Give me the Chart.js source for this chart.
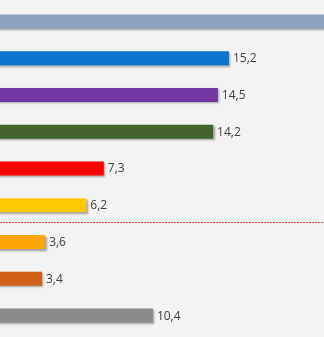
<!DOCTYPE html>
<html>
<head>
<meta charset="utf-8">
<script src="https://cdn.jsdelivr.net/npm/chart.js@4"></script>
<style>
  html, body { margin: 0; padding: 0; background: #f3f3f3; }
  #wrap { width: 324px; height: 337px; }
</style>
</head>
<body>
<div id="wrap"><canvas id="c" width="324" height="337"></canvas></div>
<script>
const categories = ["Total", "A", "B", "C", "D", "E", "F", "G", "H"];
const values = [25, 15.2, 14.5, 14.2, 7.3, 6.2, 3.6, 3.4, 10.4];
const labels = ["", "15,2", "14,5", "14,2", "7,3", "6,2", "3,6", "3,4", "10,4"];
const colors = ["#8fa2bd", "#0874cb", "#7237a4", "#44622b", "#ff0000", "#ffc805", "#ffa505", "#d2601a", "#8a8a8a"];
const separatorAfterIndex = 5;

const shadowPlugin = {
  id: 'shadow',
  beforeDatasetsDraw(chart) {
    const ctx = chart.ctx;
    ctx.save();
    ctx.shadowColor = 'rgba(0,0,0,0.35)';
    ctx.shadowBlur = 2;
    ctx.shadowOffsetX = 1.5;
    ctx.shadowOffsetY = 1.5;
  },
  afterDatasetsDraw(chart) {
    chart.ctx.restore();
  }
};

const labelPlugin = {
  id: 'barLabels',
  afterDraw(chart) {
    const ctx = chart.ctx;
    const meta = chart.getDatasetMeta(0);
    ctx.save();
    ctx.font = '12px "Open Sans"';
    ctx.fillStyle = '#404040';
    ctx.textBaseline = 'middle';
    ctx.textAlign = 'left';
    meta.data.forEach((bar, i) => {
      if (labels[i]) ctx.fillText(labels[i], bar.x + 4, bar.y + 0.5);
    });
    // dashed separator
    const ys = chart.scales.y;
    const y = Math.round(ys.getPixelForValue(separatorAfterIndex + 0.45)) + 0.5;
    ctx.strokeStyle = '#d9404f';
    ctx.lineWidth = 1;
    ctx.setLineDash([2, 1]);
    ctx.beginPath();
    ctx.moveTo(0, y);
    ctx.lineTo(chart.width, y);
    ctx.stroke();
    ctx.restore();
  }
};

new Chart(document.getElementById('c'), {
  type: 'bar',
  data: {
    labels: categories,
    datasets: [{
      data: values,
      backgroundColor: colors,
      borderWidth: 0,
      categoryPercentage: 1,
      barPercentage: 0.38
    }]
  },
  options: {
    indexAxis: 'y',
    responsive: false,
    animation: false,
    layout: { padding: { top: 3, bottom: 3, left: 0, right: 0 } },
    plugins: { legend: { display: false }, tooltip: { enabled: false } },
    scales: {
      x: { display: false, min: 0.75, max: 21.2 },
      y: { display: false }
    }
  },
  plugins: [shadowPlugin, labelPlugin]
});
</script>
</body>
</html>
